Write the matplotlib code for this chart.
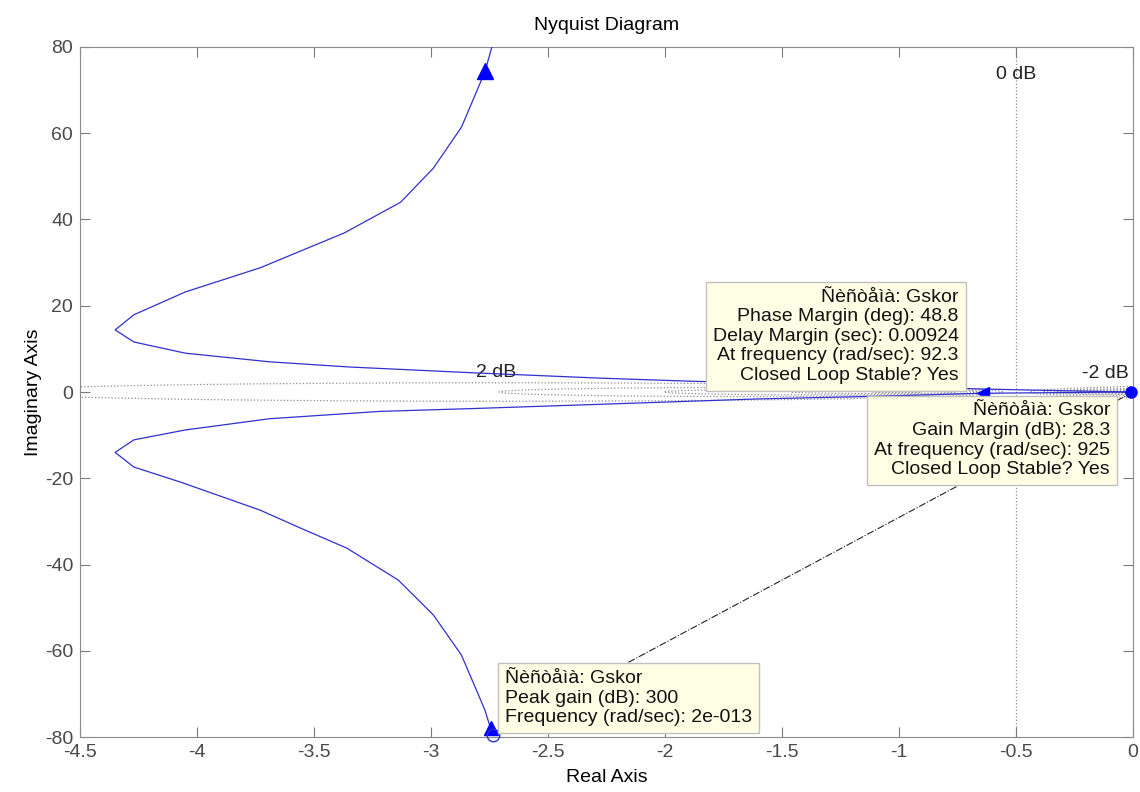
import numpy as np
import matplotlib.pyplot as plt
from matplotlib.ticker import FormatStrFormatter

plt.rcParams['font.family'] = ['Liberation Sans', 'DejaVu Sans']
plt.rcParams['axes.unicode_minus'] = False

# Nyquist curve
x_up = [-2.74, -2.77, -2.87, -2.99, -3.13, -3.37, -3.73, -4.05, -4.27, -4.35,
        -4.27, -4.05, -3.69, -3.35, -2.80, -2.27, -1.89, -1.40, -1.00,
        -0.65, -0.30, -0.02]
y_up = [80, 74.2, 61.4, 51.9, 44.0, 36.9, 28.8, 23.2, 17.9, 14.4,
        11.6, 9.0, 7.0, 5.8, 4.4, 3.2, 2.5, 1.8, 1.2,
        0.7, 0.3, 0.0]
x_lo = [-0.02, -0.65, -1.10, -1.60, -2.25, -2.80, -3.22, -3.69, -4.05, -4.27,
        -4.35, -4.27, -4.07, -3.73, -3.56, -3.36, -3.14, -2.99, -2.87, -2.77,
        -2.75, -2.735]
y_lo = [0.0, -0.3, -1.0, -1.6, -2.8, -3.8, -4.5, -6.2, -8.8, -11.1,
        -14.0, -17.4, -20.9, -27.4, -31.5, -36.2, -43.6, -51.7, -61.0, -73.7,
        -77.2, -79.5]

grid_db = [-20, -10, -6, -4, -2, 2, 4, 6, 10, 20]
peak = (-2.735, -79.5)

box_pm = "Ñèñòåìà: Gskor\nPhase Margin (deg): 48.8\nDelay Margin (sec): 0.00924\nAt frequency (rad/sec): 92.3\nClosed Loop Stable? Yes"
box_gm = "Ñèñòåìà: Gskor\nGain Margin (dB): 28.3\nAt frequency (rad/sec): 925\nClosed Loop Stable? Yes"
box_pk = "Ñèñòåìà: Gskor\nPeak gain (dB): 300\nFrequency (rad/sec): 2e-013"

fs = 14

fig = plt.figure(figsize=(11.4, 7.92), dpi=100)
ax = fig.add_axes([0.0702, 0.0694, 0.9237, 0.8713])

# M-circle grid
t = np.linspace(0, 2 * np.pi, 2000)
for db in grid_db:
    m = 10 ** (db / 20)
    c = -m ** 2 / (m ** 2 - 1)
    r = abs(m / (m ** 2 - 1))
    ax.plot(c + r * np.cos(t), r * np.sin(t), ls=':', color='#8c8c8c', lw=0.9, zorder=1)
ax.axvline(-0.5, ls=':', color='#8c8c8c', lw=0.9, zorder=1)
ax.text(-0.5, 73.5, "0 dB", ha='center', va='center', fontsize=fs, color='#222222')
ax.text(-2.72, 4.6, "2 dB", ha='center', va='center', fontsize=fs, color='#222222')
ax.text(-0.12, 4.2, "-2 dB", ha='center', va='center', fontsize=fs, color='#222222')

blue = '#3030d0'
ax.plot(x_up, y_up, color=blue, lw=0.9, zorder=3)
ax.plot(x_lo, y_lo, color=blue, lw=0.9, zorder=3)
ax.plot(-2.77, 74.5, marker='^', ms=12, color='#0000ff', zorder=4)
ax.plot(-2.745, -77.8, marker='^', ms=10, color='#0000ff', zorder=4)
ax.plot(-0.64, -0.2, marker='<', ms=8, color='#0000ff', zorder=4)
ax.plot(-0.01, 0, marker='o', ms=8, color='#0000ff', zorder=4, clip_on=False)
ax.plot(*peak, marker='o', ms=9, mfc='none', mec='#3030d0', mew=1, zorder=4, clip_on=False)

# line from origin to peak point
ax.plot([0, peak[0]], [0, peak[1]], ls='-.', color='#222222', lw=0.8, zorder=2)

bb = dict(boxstyle='square,pad=0.35', fc='#ffffe6', ec='#c0c0c0', lw=1)
ax.text(-0.745, 12.9, box_pm, ha='right', va='center', fontsize=fs, linespacing=1.2,
        bbox=bb, zorder=5, color='#111111')
ax.text(-0.098, -11.2, box_gm, ha='right', va='center', fontsize=fs, linespacing=1.2,
        bbox=bb, zorder=5, color='#111111')
ax.text(-2.685, -71.0, box_pk, ha='left', va='center', fontsize=fs, linespacing=1.2,
        bbox=bb, zorder=5, color='#111111')

ax.set_xlim(-4.5, 0)
ax.set_ylim(-80, 80)
ax.set_xticks(np.arange(-4.5, 0.01, 0.5))
ax.set_yticks(np.arange(-80, 81, 20))
ax.xaxis.set_major_formatter(FormatStrFormatter('%g'))
ax.tick_params(direction='in', length=7, top=True, right=True, colors='#7a7a7a',
               labelcolor='#4a4a4a', labelsize=fs, pad=5)
for s in ax.spines.values():
    s.set_color('#8a8a8a')
ax.set_title("Nyquist Diagram", fontsize=fs, pad=12)
ax.set_xlabel("Real Axis", fontsize=fs, labelpad=6)
ax.set_ylabel("Imaginary Axis", fontsize=fs, labelpad=2)

fig.savefig("out.png", dpi=100)
